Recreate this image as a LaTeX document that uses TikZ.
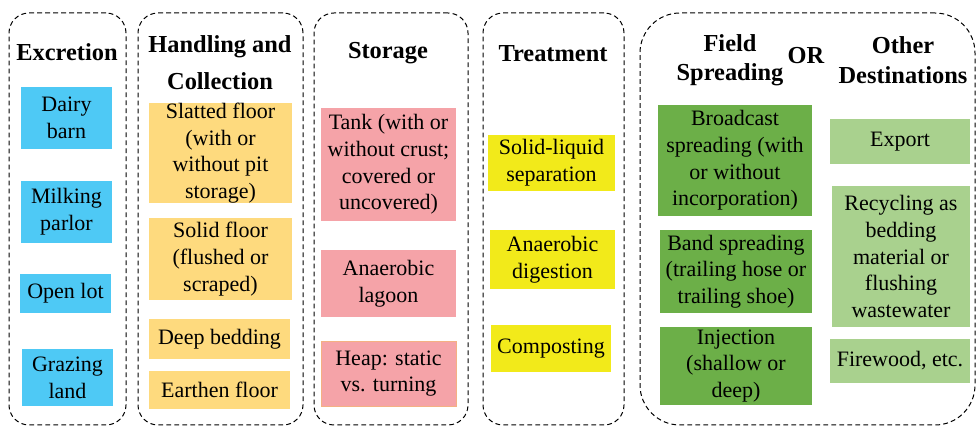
\documentclass[tikz,border=0pt]{standalone}
\usepackage{fontspec}
\setmainfont{Liberation Serif}
\usepackage{xcolor}
\usepackage{tikz}
\usetikzlibrary{positioning}

\definecolor{barnblue}{HTML}{4EC9F5}
\definecolor{floorgold}{HTML}{FEDA7E}
\definecolor{storepink}{HTML}{F5A3A8}
\definecolor{heapedge}{HTML}{F4B183}
\definecolor{treatyellow}{HTML}{F2EA1A}
\definecolor{fieldgreen}{HTML}{6CAF48}
\definecolor{othergreen}{HTML}{A9D18E}

\begin{document}
\begin{tikzpicture}[
    x=0.75pt, y=-0.75pt,
    lane/.style={draw, line width=0.75pt, dash pattern=on 3.6pt off 2.4pt, rounded corners=#1},
    lane/.default={15pt},
    head/.style={align=center, inner sep=0pt, font=\fontsize{18.3}{22}\selectfont\bfseries},
    item/.style={fill=#1, align=center, inner sep=0pt, font=\fontsize{16.5}{20}\selectfont},
    item/.default={white},
    wh/.style 2 args={minimum width=#1*0.75pt, minimum height=#2*0.75pt}
]
\useasboundingbox (0,0) rectangle (976,427);

% lanes
\node[lane, wh={117}{412}] (excrlane) at (67.5,219) {};
\node[lane, wh={165}{412}] (handlane) at (220.5,219) {};
\node[lane, wh={154}{412}] (storlane) at (391,219) {};
\node[lane, wh={141}{412}] (treatlane) at (553.5,219) {};
\node[lane=30pt, wh={335}{412}] (destlane) at (807.5,219) {};

% headings
\node[head] (excrhead) at (67,52) {Excretion};
\node[head] (handhead) at (220,63) {Handling and\\[5.75pt]Collection};
\node[head] (storhead) at (388,53) {Storage};
\node[head] (treathead) at (553,54) {Treatment};
\node[head] (fieldhead) at (730,60) {Field\\Spreading};
\node[head] (orhead) at (806,56) {OR};
\node[head] (otherhead) at (903,60) {Other\\Destinations};

% excretion
\node[item=barnblue, wh={91}{62}] (dairy) at (66.5,118) {Dairy\\barn};
\node[item=barnblue, wh={91}{62}] (milking) at (66.5,212) {Milking\\parlor};
\node[item=barnblue, wh={91}{39}] (openlot) at (65.5,293.5) {Open lot};
\node[item=barnblue, wh={91}{57}] (grazing) at (67.5,377.5) {Grazing\\land};

% handling and collection
\node[item=floorgold, wh={143}{100}] (slatted) at (220.5,153) {Slatted floor\\(with or\\without pit\\storage)};
\node[item=floorgold, wh={143}{82}] (solid) at (220.5,259) {Solid floor\\(flushed or\\scraped)};
\node[item=floorgold, wh={141}{40}] (deep) at (219.5,339) {Deep bedding};
\node[item=floorgold, wh={141}{38}] (earthen) at (219.5,390) {Earthen floor};

% storage
\node[item=storepink, wh={135}{113}] (tank) at (388.5,164.5) {Tank (with or\\without crust;\\covered or\\uncovered)};
\node[item=storepink, wh={135}{67}] (lagoon) at (388.5,283.5) {Anaerobic\\lagoon};
\node[item=storepink, draw=heapedge, line width=0.6pt, wh={135}{65}] (heap) at (388.5,373.5) {Heap: static\\vs. turning};

% treatment
\node[item=treatyellow, wh={127}{56}] (separation) at (551.5,163) {Solid-liquid\\separation};
\node[item=treatyellow, wh={125}{59}] (digestion) at (552.5,259.5) {Anaerobic\\digestion};
\node[item=treatyellow, wh={120}{47}] (composting) at (551,348.5) {Composting};

% field spreading
\node[item=fieldgreen, wh={154}{111}] (broadcast) at (735,160.5) {Broadcast\\spreading (with\\or without\\incorporation)};
\node[item=fieldgreen, wh={152}{83}] (band) at (736,271.5) {Band spreading\\(trailing hose or\\trailing shoe)};
\node[item=fieldgreen, wh={152}{78}] (injection) at (736,366) {Injection\\(shallow or\\deep)};

% other destinations
\node[item=othergreen, wh={140}{45}] (export) at (900,141.5) {Export};
\node[item=othergreen, wh={138}{141}] (recycling) at (901,256.5) {Recycling as\\bedding\\material or\\flushing\\wastewater};
\node[item=othergreen, wh={140}{44}] (firewood) at (900,361) {Firewood, etc.};

\end{tikzpicture}
\end{document}
